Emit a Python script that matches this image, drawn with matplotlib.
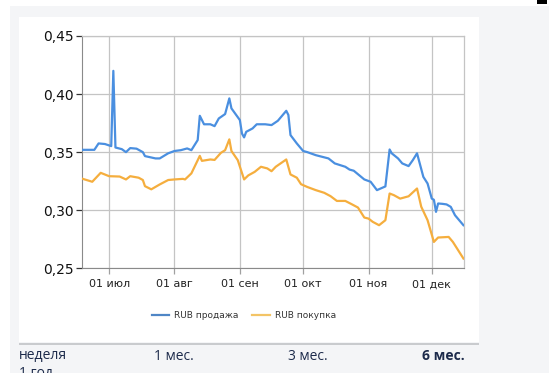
import pandas as pd
import matplotlib.pyplot as plt
from matplotlib.patches import Rectangle
from matplotlib.lines import Line2D

# ---------------------------------------------------------
# data
# ---------------------------------------------------------
YEAR = "2014"

sell_dates = [
    "06-18", "06-24", "06-26", "06-29", "07-02", "07-03", "07-04", "07-07", "07-09", "07-11",
    "07-14", "07-17", "07-18", "07-23", "07-25", "07-29", "08-01", "08-04", "08-07", "08-09",
    "08-12", "08-13", "08-15", "08-18", "08-20", "08-22", "08-25", "08-27", "08-28", "09-01",
    "09-02", "09-03", "09-04", "09-07", "09-09", "09-13", "09-16", "09-19", "09-23", "09-24",
    "09-25", "09-28", "10-01", "10-03", "10-07", "10-10", "10-13", "10-16", "10-21", "10-23",
    "10-25", "10-30", "11-02", "11-05", "11-09", "11-11", "11-12", "11-15", "11-17", "11-20",
    "11-22", "11-24", "11-27", "11-29", "12-01", "12-02", "12-03", "12-04", "12-06", "12-08",
    "12-10", "12-12", "12-16",
]
sell = [
    0.352, 0.352, 0.3575, 0.357, 0.3552, 0.420, 0.354, 0.3526, 0.350, 0.3535,
    0.353, 0.350, 0.3466, 0.3446, 0.3446, 0.349, 0.351, 0.3517, 0.3532, 0.3517,
    0.3604, 0.3813, 0.374, 0.374, 0.3724, 0.379, 0.3828, 0.3963, 0.3877, 0.3776,
    0.366, 0.3627, 0.3675, 0.3704, 0.374, 0.374, 0.3733, 0.377, 0.3856, 0.382,
    0.3647, 0.3575, 0.351, 0.350, 0.3474, 0.346, 0.3446, 0.3403, 0.3374, 0.335,
    0.334, 0.3265, 0.3245, 0.3173, 0.3205, 0.3523, 0.349, 0.3446, 0.3403, 0.338,
    0.3431, 0.349, 0.3287, 0.323, 0.310, 0.309, 0.2986, 0.3058, 0.3055, 0.305,
    0.3029, 0.2957, 0.2871,
]

buy_dates = [
    "06-18", "06-23", "06-27", "07-01", "07-06", "07-09", "07-11", "07-15", "07-17", "07-18",
    "07-21", "07-25", "07-29", "08-01", "08-05", "08-06", "08-09", "08-13", "08-14", "08-18",
    "08-20", "08-23", "08-25", "08-27", "08-28", "08-31", "09-03", "09-05", "09-08", "09-11",
    "09-14", "09-16", "09-18", "09-23", "09-25", "09-28", "09-30", "10-03", "10-07", "10-11",
    "10-14", "10-17", "10-21", "10-24", "10-27", "10-30", "11-01", "11-03", "11-06", "11-09",
    "11-11", "11-13", "11-16", "11-20", "11-24", "11-26", "11-29", "12-02", "12-04", "12-09",
    "12-11", "12-13", "12-16",
]
buy = [
    0.3273, 0.3245, 0.3322, 0.3293, 0.329, 0.3265, 0.3293, 0.328, 0.326, 0.3207,
    0.318, 0.3222, 0.326, 0.3265, 0.327, 0.3265, 0.3317, 0.3468, 0.3425, 0.3437,
    0.3433, 0.3494, 0.3517, 0.361, 0.351, 0.3431, 0.3265, 0.330, 0.333, 0.3374,
    0.336, 0.3336, 0.3374, 0.3437, 0.3308, 0.328, 0.3224, 0.320, 0.3173, 0.315,
    0.3121, 0.308, 0.308, 0.3052, 0.3023, 0.2937, 0.2928, 0.290, 0.2871, 0.2914,
    0.3144, 0.313, 0.310, 0.312, 0.3187, 0.303, 0.2914, 0.2727, 0.2765, 0.277,
    0.2727, 0.267, 0.2584,
]

x_tick_dates = ["07-01", "08-01", "09-01", "10-01", "11-01", "12-01"]
x_tick_labels = ["01 июл", "01 авг", "01 сен", "01 окт", "01 ноя", "01 дек"]
y_ticks = [0.25, 0.30, 0.35, 0.40, 0.45]
y_tick_labels = ["0,25", "0,30", "0,35", "0,40", "0,45"]

series_names = ["RUB продажа", "RUB покупка"]
periods = ["неделя", "1 мес.", "3 мес.", "6 мес."]

to_dt = lambda lst: pd.to_datetime([f"{YEAR}-{d}" for d in lst])

# ---------------------------------------------------------
# figure
# ---------------------------------------------------------
W, H = 549, 373
BG = "#f4f5f7"
BLUE = "#4a8fe0"
ORANGE = "#f5ae3e"

fig = plt.figure(figsize=(W / 100, H / 100), dpi=100, facecolor=BG)

def px_rect(x0, y0, x1, y1, color, z=-10):
    fig.patches.append(Rectangle((x0 / W, 1 - y1 / H), (x1 - x0) / W, (y1 - y0) / H,
                                 transform=fig.transFigure, facecolor=color,
                                 edgecolor="none", zorder=z))

px_rect(0, 0, W, 6, "white")
px_rect(0, 0, 9.5, H, "white")
px_rect(19, 17, 479, 342, "white")
px_rect(19, 342.5, 479, 345, "#c9cbce")
px_rect(537, 0, 547, 3.5, "black")

ax = fig.add_axes([81.7 / W, 1 - 268.3 / H, (464.3 - 81.7) / W, (268.3 - 36) / H])
ax.set_facecolor("white")

ax.plot(to_dt(sell_dates), sell, color=BLUE, lw=1.6, solid_joinstyle="round", zorder=3)
ax.plot(to_dt(buy_dates), buy, color=ORANGE, lw=1.6, solid_joinstyle="round", zorder=3)

ax.set_xlim(pd.Timestamp(f"{YEAR}-06-18"), pd.Timestamp(f"{YEAR}-12-16 10:00"))
ax.set_ylim(0.25, 0.45)
ax.set_xticks(to_dt(x_tick_dates))
ax.set_xticklabels(x_tick_labels, fontsize=8, color="#222")
ax.set_yticks(y_ticks)
ax.set_yticklabels(y_tick_labels, fontsize=10, color="#111")

ax.grid(True, color="#c4c4c4", lw=0.9)
ax.set_axisbelow(True)
for side in ["top", "right"]:
    ax.spines[side].set_color("#c4c4c4")
    ax.spines[side].set_linewidth(0.9)
ax.spines["left"].set_color("#8a8a8a")
ax.spines["bottom"].set_color("#8a8a8a")
ax.tick_params(axis="y", length=4, width=0.9, color="#333", pad=2)
ax.tick_params(axis="x", length=4, width=0.9, color="#a0a0a0", pad=4)

handles = [Line2D([], [], color="#4f86c6", lw=1.6),
           Line2D([], [], color="#f3c466", lw=1.6)]
fig.legend(handles, series_names, loc="center", bbox_to_anchor=(244 / W, 1 - 316 / H),
           ncol=2, frameon=False, fontsize=6.5, handlelength=1.9, handletextpad=0.6,
           columnspacing=1.5, labelcolor="#333")

period_x = [19, 154, 288, 422]
for name, xp in zip(periods, period_x):
    fig.text(xp / W, 1 - 356 / H, name, ha="left", va="center", fontsize=10,
             family="Open Sans", color="#1d2b4b",
             fontweight="bold" if name == "6 мес." else "normal")
# partly hidden under the bottom edge, as in the page screenshot
fig.text(19 / W, 1 - 374 / H, "1 год", ha="left", va="center", fontsize=10,
         family="Open Sans", color="#1d2b4b")

fig.savefig("out.png", dpi=100, facecolor=BG)
